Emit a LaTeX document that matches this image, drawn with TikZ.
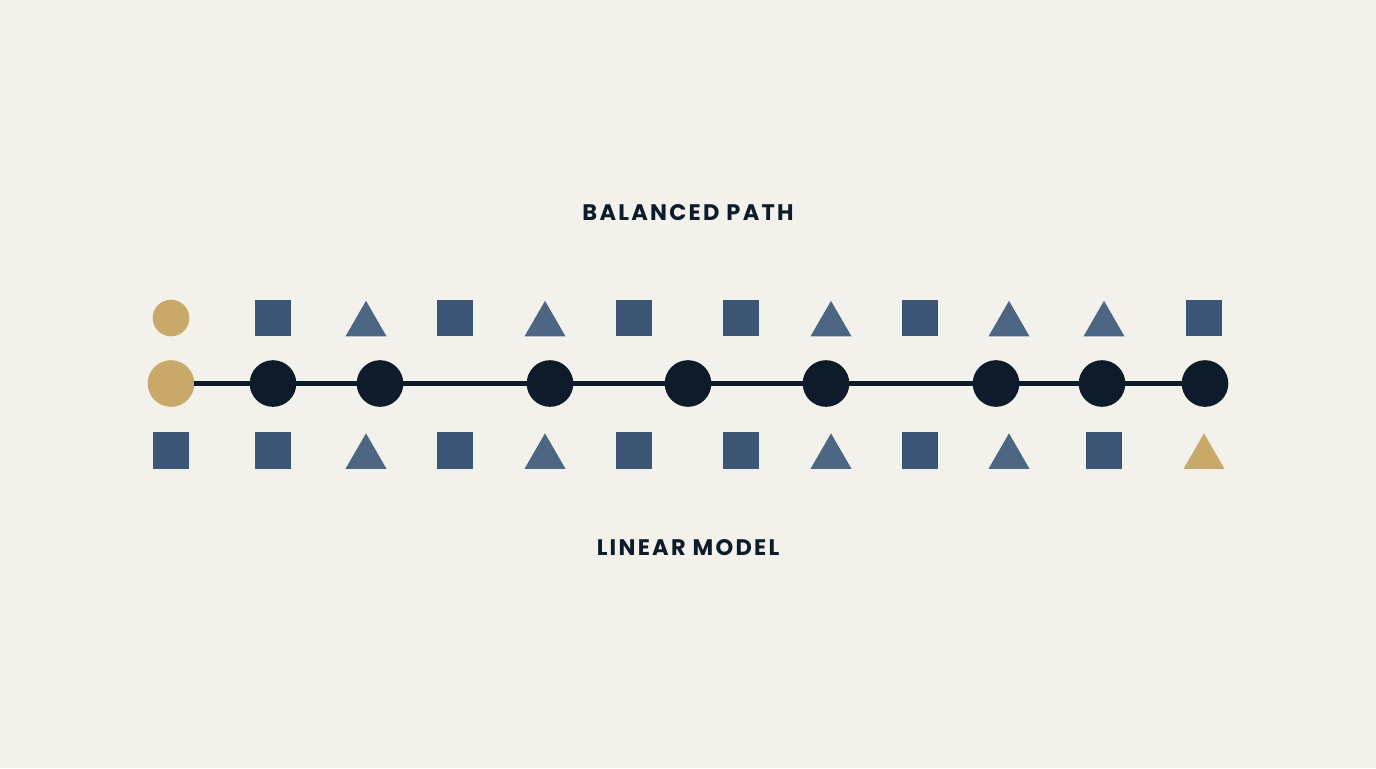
\documentclass[tikz,border=0pt]{standalone}
\usepackage{fontspec}
\newfontfamily\capsfont[LetterSpace=10]{Poppins}
\usetikzlibrary{shapes.geometric}

\definecolor{paper}{HTML}{F3F1EB}
\definecolor{inkdark}{HTML}{0D1B2A}
\definecolor{slateblue}{HTML}{3E5676}
\definecolor{slatelight}{HTML}{4C6684}
\definecolor{sand}{HTML}{C8A96A}

\begin{document}
\begin{tikzpicture}[x=0.02cm, y=-0.02cm,
    dot/.style={circle, fill=inkdark, minimum size=0.933cm, inner sep=0pt, outer sep=0pt},
    sanddot/.style={dot, fill=sand},
    sq/.style={rectangle, fill=slateblue, minimum size=0.734cm, inner sep=0pt, outer sep=0pt},
    tri/.style={regular polygon, regular polygon sides=3, fill=slatelight, minimum size=0.947cm,
                inner sep=0pt, outer sep=0pt, anchor=south, yshift=-0.367cm},
    sandtri/.style={tri, fill=sand},
    smalldot/.style={circle, fill=sand, minimum size=0.733cm, inner sep=0pt, outer sep=0pt},
    link/.style={draw=inkdark, line width=0.11cm},
    caption/.style={font=\capsfont\bfseries\fontsize{12.8}{15}\selectfont, text=inkdark, inner sep=0pt}]
    % canvas
    \fill[paper] (0,0) rectangle (1376,768);
    \useasboundingbox (0,0) rectangle (1376,768);

    % labels
    \node[caption] (top) at (688,212.5) {BALANCED PATH};
    \node[caption] (bottom) at (688,548) {LINEAR MODEL};

    % upper row
    \node[smalldot] (t0) at (171,318) {};
    \foreach \x/\k [count=\i] in {273/sq, 366/tri, 455/sq, 545/tri, 634/sq, 741/sq,
                                  831/tri, 920/sq, 1009/tri, 1104/tri, 1204/sq}
        \node[\k] (t\i) at (\x,318) {};

    % path of stops
    \node[sanddot] (c0) at (171,383.5) {};
    \foreach \x [count=\i] in {273,380,550,688,826,996,1102,1205}
        \node[dot] (c\i) at (\x,383.5) {};
    \foreach \i [remember=\i as \j (initially 0)] in {1,...,8}
        \draw[link] (c\j) -- (c\i);

    % lower row
    \foreach \x/\k [count=\i] in {171/sq, 273/sq, 366/tri, 455/sq, 545/tri, 634/sq, 741/sq,
                                  831/tri, 920/sq, 1009/tri, 1104/sq, 1204/sandtri}
        \node[\k] (b\i) at (\x,450.5) {};
\end{tikzpicture}
\end{document}
